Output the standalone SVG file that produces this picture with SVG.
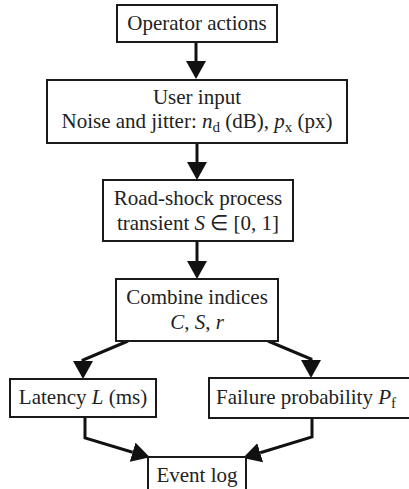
<svg xmlns="http://www.w3.org/2000/svg" width="409" height="489" viewBox="0 0 409 489">
<style>
.box{fill:#fff;stroke:#1a1a1a;stroke-width:2}
.t{font-family:"Liberation Serif","Times New Roman",serif;font-size:21px;fill:#222;text-anchor:middle}
.i{font-style:italic}
.conn{fill:none;stroke:#111;stroke-width:3;stroke-linejoin:miter}
</style>
<defs>
<marker id="ah" viewBox="0 0 18 20" refX="0" refY="10" markerWidth="18" markerHeight="20" markerUnits="userSpaceOnUse" orient="auto">
<path d="M0,0 L18,10 L0,20 z" fill="#111"/>
</marker>
</defs>
<rect width="409" height="489" fill="#fff"/>
<g id="connectors">
<path class="conn" d="M196,42 V61" marker-end="url(#ah)"/>
<path class="conn" d="M197,143 V162" marker-end="url(#ah)"/>
<path class="conn" d="M197,241 V261" marker-end="url(#ah)"/>
<path class="conn" d="M128,341 L83,360 L83,361" marker-end="url(#ah)"/>
<path class="conn" d="M268,341 L311,359 L311,360" marker-end="url(#ah)"/>
<path class="conn" d="M85,417 V438 L132.6,452.2" marker-end="url(#ah)"/>
<path class="conn" d="M312,418 V437 L260.2,452.8" marker-end="url(#ah)"/>
</g>
<g id="operator">
<rect class="box" x="117" y="5" width="160" height="37"/>
<text class="t" x="197" y="30">Operator actions</text>
</g>
<g id="userinput">
<rect class="box" x="47" y="80" width="300" height="63"/>
<text class="t" x="197" y="104">User input</text>
<text class="t" x="197" y="128">Noise and jitter: <tspan class="i">n</tspan><tspan font-size="15" dy="4">d</tspan><tspan dy="-4"> (dB), </tspan><tspan class="i">p</tspan><tspan font-size="15" dy="4">x</tspan><tspan dy="-4"> (px)</tspan></text>
</g>
<g id="roadshock">
<rect class="box" x="103" y="180" width="190" height="61"/>
<text class="t" x="198" y="205">Road-shock process</text>
<text class="t" x="198" y="230">transient <tspan class="i">S</tspan> ∈ [0, 1]</text>
</g>
<g id="combine">
<rect class="box" x="116" y="279" width="162" height="62"/>
<text class="t" x="197" y="304">Combine indices</text>
<text class="t" x="197" y="329"><tspan class="i">C</tspan>, <tspan class="i">S</tspan>, <tspan class="i">r</tspan></text>
</g>
<g id="latency">
<rect class="box" x="10" y="379" width="146" height="38"/>
<text class="t" x="83" y="404">Latency <tspan class="i">L</tspan> (ms)</text>
</g>
<g id="failure">
<rect class="box" x="209" y="378" width="206" height="40"/>
<text class="t" x="216" y="404" style="text-anchor:start">Failure probability <tspan class="i">P</tspan><tspan font-size="15" dy="4">f</tspan></text>
</g>
<g id="eventlog">
<rect class="box" x="148" y="457" width="98" height="45"/>
<text class="t" x="197" y="482">Event log</text>
</g>
</svg>
